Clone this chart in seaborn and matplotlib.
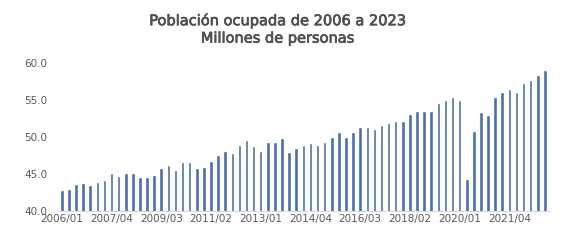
import numpy as np
import pandas as pd
import seaborn as sns
import matplotlib
matplotlib.use('Agg')
import matplotlib.pyplot as plt
import matplotlib.patheffects as pe

sns.set_theme(style="white")
plt.rcParams['font.family'] = ['DejaVu Sans']

# trimestres 2006/01 .. 2023/01
years = list(range(2006, 2024))
periods = [f"{y}/{q:02d}" for y in years for q in range(1, 5)][:69]

ocupada = [42.8, 43.0, 43.7, 43.8, 43.5, 43.9, 44.2, 45.1, 44.7, 45.1,
           45.1, 44.6, 44.6, 44.9, 45.8, 46.3, 45.5, 46.6, 46.6, 45.8,
           46.0, 46.8, 47.6, 48.2, 47.8, 48.9, 49.6, 48.8, 48.2, 49.3,
           49.4, 49.9, 48.0, 48.5, 48.9, 49.2, 48.9, 49.4, 50.1, 50.7,
           50.0, 50.7, 51.4, 51.4, 51.1, 51.6, 51.9, 52.2, 52.2, 53.2,
           53.5, 53.5, 53.5, 54.6, 55.0, 55.5, 55.1, 44.3, 50.9, 53.4,
           53.0, 55.4, 56.1, 56.6, 56.1, 57.4, 57.7, 58.4, 59.1]

df = pd.DataFrame({'periodo': periods, 'ocupada': ocupada})

text_color = '#595959'
bar_color = '#4a6ea8'

f, ax = plt.subplots(figsize=(5.71, 2.44), dpi=100)
f.subplots_adjust(left=0.102, right=0.963, top=0.74, bottom=0.135)

sns.barplot(data=df, x='periodo', y='ocupada', color=bar_color,
            width=0.5, saturation=1, ax=ax)

ax.set_ylim(40, 60)
ax.set_xlim(-0.5, len(periods) - 0.3)
ax.set_yticks([40, 45, 50, 55, 60])
ax.set_yticklabels([f"{v:.1f}" for v in [40, 45, 50, 55, 60]])
ax.set_xticks(range(0, len(periods), 7))
ax.set_xticklabels(periods[::7])
ax.tick_params(axis='both', labelsize=7.5, colors=text_color, length=0, pad=2)
ax.tick_params(axis='y', pad=8)
ax.set_xlabel('')
ax.set_ylabel('')

sns.despine(ax=ax, left=True, top=True, right=True, bottom=False)
ax.spines['bottom'].set_color('#d9d9d9')
ax.spines['bottom'].set_linewidth(0.8)

f.text(0.487, 0.95, 'Población ocupada de 2006 a 2023\nMillones de personas',
       ha='center', va='top', fontsize=10.5, color='#505050',
       linespacing=1.2,
       path_effects=[pe.withStroke(linewidth=0.5, foreground='#505050')])

plt.savefig('out.png', dpi=100)
